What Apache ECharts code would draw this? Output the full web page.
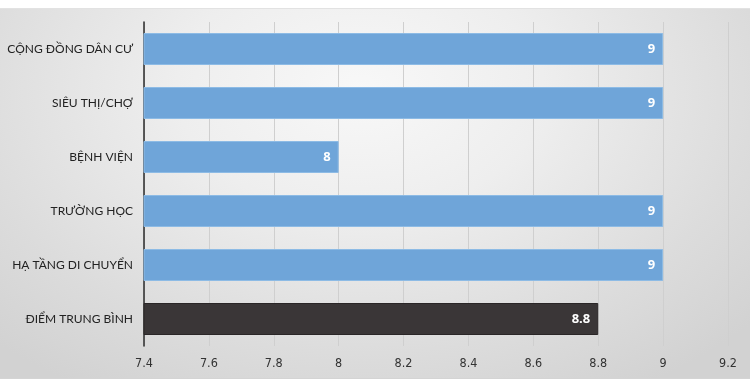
<!DOCTYPE html>
<html>
<head>
<meta charset="utf-8">
<script src="https://cdn.jsdelivr.net/npm/echarts@6/dist/echarts.min.js"></script>
<style>
  html, body { margin: 0; padding: 0; background: #ffffff; }
  #wrap { position: relative; width: 750px; height: 385px; overflow: hidden; }
  #bg { position: absolute; left: 0; top: 8px; width: 750px; height: 371px;
        border-top: 1px solid #e2e2e2; border-bottom: 1px solid #d4d4d4; box-sizing: border-box;
        background: radial-gradient(ellipse 70% 95% at 48% 22%, #f8f8f8 0%, #eeeeee 35%, #dcdcdc 75%, #d2d2d2 100%); }
  #chart { position: absolute; left: 0; top: 0; width: 750px; height: 385px; }
</style>
</head>
<body>
<div id="wrap">
  <div id="bg"></div>
  <div id="chart"></div>
</div>
<script>
const categories = ['CỘNG ĐỒNG DÂN CƯ', 'SIÊU THỊ/CHỢ', 'BỆNH VIỆN', 'TRƯỜNG HỌC', 'HẠ TẦNG DI CHUYỂN', 'ĐIỂM TRUNG BÌNH'];
const values = [9, 9, 8, 9, 9, 8.8];
const averageIndex = 5;
const xMin = 7.4, xMax = 9.2, xStep = 0.2;

const chart = echarts.init(document.getElementById('chart'), null, { renderer: 'canvas' });
chart.setOption({
  backgroundColor: 'transparent',
  animation: false,
  grid: { left: 144, right: 22, top: 22, bottom: 39, containLabel: false, outerBoundsMode: 'none' },
  xAxis: {
    type: 'value', min: xMin, max: xMax, interval: xStep,
    axisLine: { show: false },
    axisTick: { show: false },
    splitLine: { show: true, lineStyle: { color: '#cfcfcf', width: 1 } },
    axisLabel: {
      margin: 11, color: '#333333', fontSize: 12.5, fontFamily: 'DejaVu Sans Condensed',
      formatter: v => String(Math.round(v * 10) / 10)
    }
  },
  yAxis: {
    type: 'category', data: categories, inverse: true,
    axisLine: { show: true, lineStyle: { color: '#2a2a2a', width: 1.5 } },
    axisTick: { show: false },
    axisLabel: { margin: 11, color: '#222222', fontSize: 12, fontFamily: 'Lato' }
  },
  series: [{
    type: 'bar',
    barWidth: 32,
    data: values.map((v, i) => ({
      value: v,
      itemStyle: i === averageIndex
        ? { color: '#3a3637', borderColor: '#2a2627', borderWidth: 1 }
        : { color: '#6fa5d9', borderColor: '#8dbbe5', borderWidth: 1 }
    })),
    label: {
      show: true, position: 'insideRight', distance: 8,
      color: '#ffffff', fontWeight: 'bold', fontSize: 13, fontFamily: 'Open Sans'
    }
  }]
});
</script>
</body>
</html>
